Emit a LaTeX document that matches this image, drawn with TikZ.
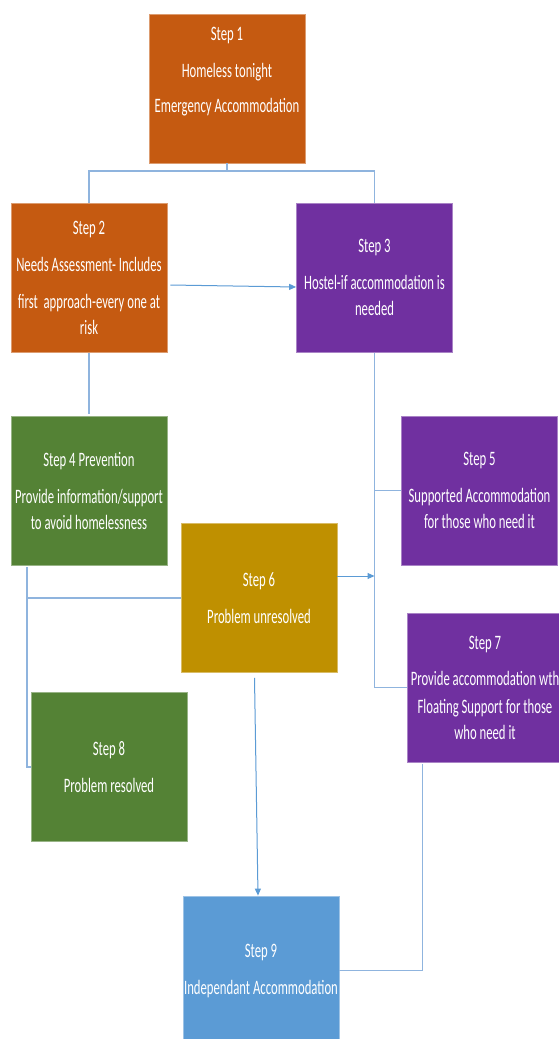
\documentclass[tikz,border=0pt]{standalone}
\usepackage{fontspec}
\setmainfont{Carlito}[FakeStretch=0.62]
\usetikzlibrary{arrows.meta}
\definecolor{corange}{HTML}{C55A11}
\definecolor{cpurple}{HTML}{7030A0}
\definecolor{cgreen}{HTML}{548235}
\definecolor{cgold}{HTML}{BF9000}
\definecolor{cblue}{HTML}{5B9BD5}
\definecolor{cline}{RGB}{143,180,222}
\definecolor{carrow}{HTML}{5B9BD5}
\tikzset{
  stepbox/.style={rectangle, minimum width=156bp, minimum height=149bp, inner sep=0pt,
    text=white, align=center, line width=0.8bp,
    font={\fontsize{20.5bp}{26bp}\selectfont}},
  ob/.style={stepbox, fill=corange, draw=corange!60!white},
  pb/.style={stepbox, fill=cpurple, draw=cpurple!60!white},
  gb/.style={stepbox, fill=cgreen, draw=cgreen!60!white},
  yb/.style={stepbox, fill=cgold, draw=cgold!60!white},
  bb/.style={stepbox, fill=cblue, draw=cblue!60!white},
  conn/.style={draw=cline, line width=1.5bp},
  arr/.style={draw=carrow, line width=1bp, -{Triangle[length=7bp,width=6bp]}}
}
\begin{document}
\begin{tikzpicture}[x=1bp,y=-1bp]
\useasboundingbox[fill=white] (0,0) rectangle (559,1039);
\clip (0,0) rectangle (559,1039);
\node[ob] (s1) at (227,88.5) {Step 1\\[11bp]Homeless tonight\\[9bp]Emergency Accommodation\\[3bp]\strut};
\node[ob] (s2) at (89,277.5) {Step 2\\[11bp]Needs Assessment- Includes\\[11bp]first\ \ approach-every one at\\risk};
\node[pb] (s3) at (374.5,277.5) {Step 3\\[11bp]Hostel-if accommodation is\\needed};
\node[gb] (s4) at (89,490.5) {Step 4 Prevention\\[11bp]Provide information/support\\to avoid homelessness};
\node[pb] (s5) at (479.5,490.5) {Step 5\\[11bp]Supported Accommodation\\for those who need it};
\node[yb] (s6) at (259,598) {Step 6\\[11bp]Problem unresolved};
\node[pb] (s7) at (485,687.5) {Step 7\\[10bp]Provide accommodation wth\\[2bp]Floating Support for those\\who need it};
\node[gb] (s8) at (109,767) {Step 8\\[11bp]Problem resolved};
\node[bb] (s9) at (261,970.5) {Step 9\\[11bp]Independant Accommodation};

\coordinate (j1) at (227,171);
\draw[conn] (s1.south) -- (j1);
\draw[conn] (s2.north) |- (j1) -| (s3.north);
\draw[arr] ([xshift=3bp,yshift=-7.5bp]s2.east) -- ([yshift=-9.5bp]s3.west);
\draw[conn] ([yshift=-1bp]s2.south) -- ([yshift=2bp]s4.north);
\draw[conn] ([yshift=-1bp]s3.south) |- (s7.west);
\draw[conn] (s3.south |- s5.west) -- (s5.west);
\coordinate (a6) at ([yshift=22bp]s6.east);
\draw[arr] (a6) -- (s3.south |- a6);
\coordinate (v4) at ([xshift=16.6bp,yshift=-2bp]s4.south west);
\draw[conn] (v4) |- (s8.west);
\draw[conn] (s6.west) -- (s6.west -| v4);
\draw[arr] ([xshift=-4.5bp,yshift=-5bp]s6.south) -- ([xshift=-3bp]s9.north);
\draw[conn] ([xshift=16bp,yshift=-2bp]s7.south west) |- (s9.east);
\end{tikzpicture}
\end{document}
